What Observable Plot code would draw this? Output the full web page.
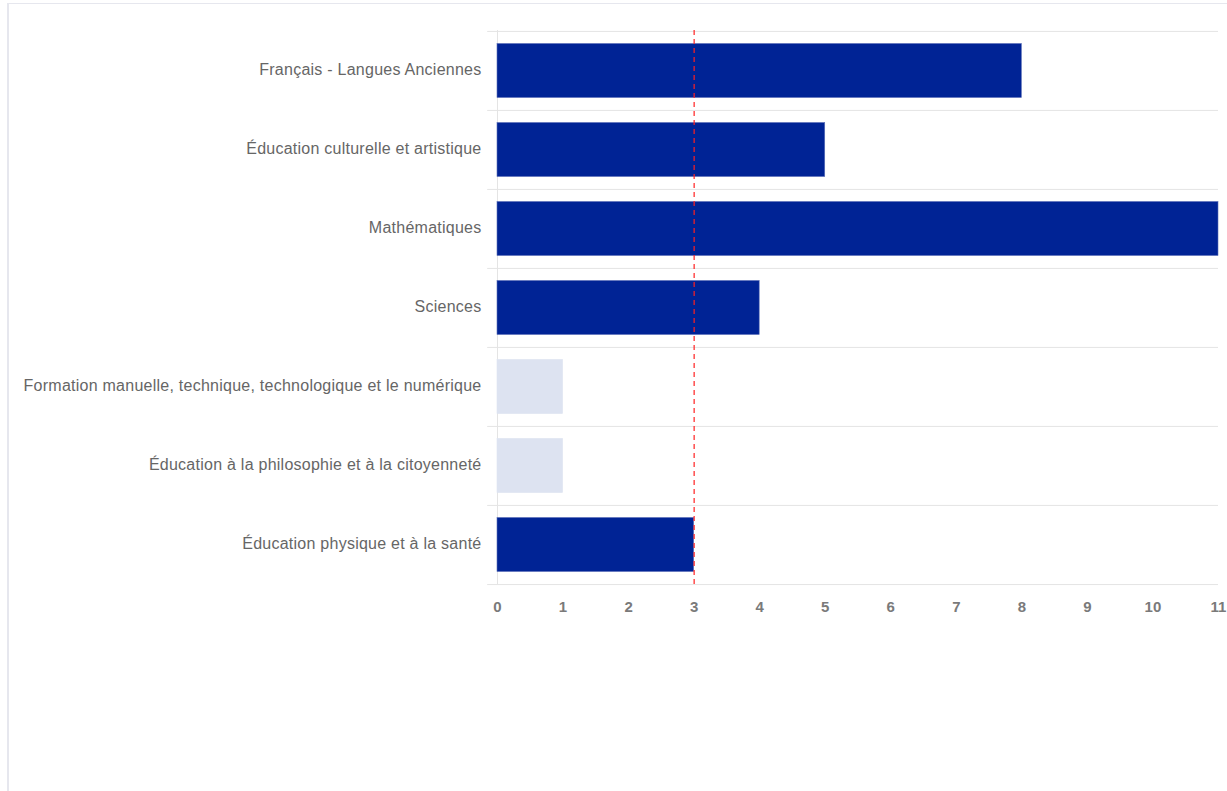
<!DOCTYPE html>
<html>
<head>
<meta charset="utf-8">
<script src="https://cdn.jsdelivr.net/npm/d3@7"></script>
<script src="https://cdn.jsdelivr.net/npm/@observablehq/plot@0.6"></script>
<style>
  html, body { margin: 0; padding: 0; background: #fff; }
  #frame { position: absolute; left: 7px; top: 3px; width: 1240px; height: 800px;
           border-left: 2px solid #e6e7ee; border-top: 1px solid #e6e7ee; }
  #chart { position: absolute; left: 0; top: 0; }
  svg { font-family: "Liberation Sans", Arial, sans-serif; }
  .ylab text { letter-spacing: 0.25px; }
</style>
</head>
<body>
<div id="frame"></div>
<div id="chart"></div>
<script>
const categories = [
  "Français - Langues Anciennes",
  "Éducation culturelle et artistique",
  "Mathématiques",
  "Sciences",
  "Formation manuelle, technique, technologique et le numérique",
  "Éducation à la philosophie et à la citoyenneté",
  "Éducation physique et à la santé"
];
const values = [8, 5, 11, 4, 1, 1, 3];
const threshold = 3;
const xTicks = [0,1,2,3,4,5,6,7,8,9,10,11];

const data = categories.map((c, i) => ({category: c, value: values[i]}));

const W = 1227, H = 791, mL = 497, mR = 9, mT = 30, mB = 207;
const step = (H - mT - mB) / categories.length;

const plot = Plot.plot({
  width: W, height: H,
  marginLeft: mL, marginRight: mR, marginTop: mT, marginBottom: mB,
  style: {fontFamily: '"Liberation Sans", Arial, sans-serif', background: "transparent"},
  x: {domain: [0, 11], ticks: xTicks},
  y: {domain: categories, padding: 0},
  marks: [
    Plot.ruleY(categories, {y: d => d, dy: -step / 2, x1: -0.15, x2: 11, stroke: "#e4e4e4", strokeWidth: 1, strokeOpacity: 1}),
    Plot.ruleY([categories[categories.length - 1]], {y: d => d, dy: step / 2, x1: -0.15, x2: 11, stroke: "#e4e4e4", strokeWidth: 1, strokeOpacity: 1}),
    Plot.ruleX([0], {stroke: "#e4e4e4", strokeWidth: 1}),
    Plot.barX(data, {
      x: "value", y: "category",
      insetTop: 12.5, insetBottom: 12.5,
      fill: d => d.value >= threshold ? "#002395" : "#dde3f1",
      stroke: d => d.value >= threshold ? "#5a6fb8" : "#dde3f1",
      strokeWidth: 0.6
    }),
    Plot.ruleX([threshold], {stroke: "#ff2020", strokeWidth: 1.2, strokeDasharray: "5,4"}),
    Plot.axisX({
      ticks: xTicks, tickSize: 0, tickPadding: 17, label: null,
      fontSize: 15, fontWeight: "bold", fill: "#7a7a7a", tickFormat: d => String(d)
    }),
    Plot.axisY({
      tickSize: 0, tickPadding: 16, label: null, className: "ylab", dy: -1.5,
      fontSize: 16, fill: "#666666"
    })
  ]
});
document.getElementById("chart").appendChild(plot);
</script>
</body>
</html>
